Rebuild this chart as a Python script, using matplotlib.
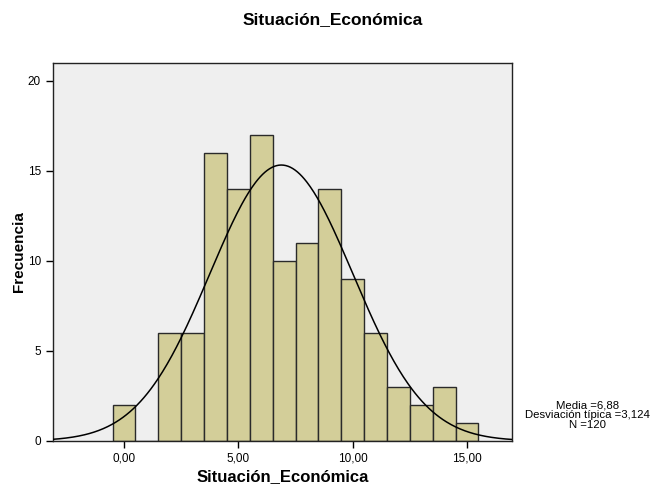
import numpy as np
import matplotlib.pyplot as plt

# histogram of Situación_Económica (bins centred on integers)
values = [0, 1, 2, 3, 4, 5, 6, 7, 8, 9, 10, 11, 12, 13, 14, 15]
counts = [2, 0, 6, 6, 16, 14, 17, 10, 11, 14, 9, 6, 3, 2, 3, 1]
mean = 6.88
sd = 3.124
n = 120

plt.rcParams['font.family'] = ['Liberation Sans', 'DejaVu Sans']

fig = plt.figure(figsize=(6.65, 4.87), dpi=100)
ax = fig.add_axes([0.0792, 0.0945, 0.6908, 0.7765])
ax.set_facecolor('#EFEFEF')

ax.bar(values, counts, width=1.0, color='#D3CE99', edgecolor='#2a2a2a', linewidth=1.0, zorder=2)

xs = np.linspace(-3.2, 17.1, 400)
ys = n * 1.0 / (sd * np.sqrt(2 * np.pi)) * np.exp(-0.5 * ((xs - mean) / sd) ** 2)
ax.plot(xs, ys, color='black', linewidth=1.1, zorder=3)

ax.set_xlim(-3.12, 16.97)
ax.set_ylim(0, 21.0)
ax.set_xticks([0, 5, 10, 15])
ax.set_xticklabels(['0,00', '5,00', '10,00', '15,00'])
ax.set_yticks([0, 5, 10, 15, 20])
ax.tick_params(direction='out', length=5, width=1, labelsize=8.5, top=False, right=False)
for s in ax.spines.values():
    s.set_linewidth(1.0)
    s.set_color('#222222')

ax.set_xlabel('Situación_Económica', fontsize=12, fontweight='bold', labelpad=3)
ax.set_ylabel('Frecuencia', fontsize=11, fontweight='bold')
ax.yaxis.set_label_coords(-0.058, 0.5)
fig.text(0.5, 0.959, 'Situación_Económica', ha='center', va='center',
         fontsize=12.5, fontweight='bold')

fig.text(0.884, 0.148, 'Media =6,88\nDesviación típica =3,124\nN =120',
         ha='center', va='center', fontsize=8.2, linespacing=0.95)

fig.savefig('out.png', dpi=100, facecolor='white')
